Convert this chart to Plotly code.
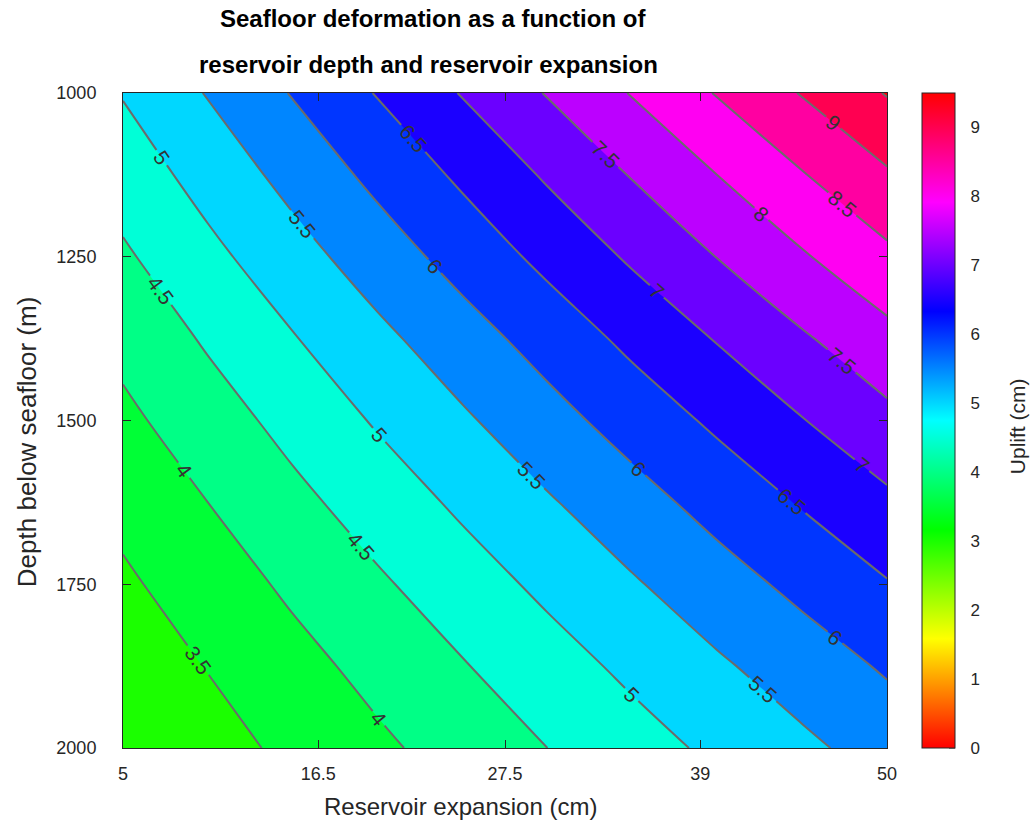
import plotly.graph_objects as go
import colorsys

# ---- data ----
expansion_cm = [5, 10, 15, 20, 25, 30, 35, 40, 45, 50]
depth_m = [1000, 1125, 1250, 1375, 1500, 1625, 1750, 1875, 2000]
uplift_cm = [
    [5.03, 5.53, 6.03, 6.53, 7.03, 7.53, 8.03, 8.53, 9.03, 9.53],
    [4.72, 5.19, 5.66, 6.13, 6.59, 7.06, 7.53, 8.00, 8.47, 8.94],
    [4.43, 4.87, 5.31, 5.75, 6.19, 6.63, 7.07, 7.51, 7.95, 8.39],
    [4.14, 4.56, 4.97, 5.38, 5.79, 6.20, 6.62, 7.03, 7.44, 7.85],
    [3.89, 4.27, 4.66, 5.05, 5.43, 5.82, 6.21, 6.59, 6.98, 7.37],
    [3.64, 4.00, 4.37, 4.73, 5.09, 5.45, 5.81, 6.18, 6.54, 6.90],
    [3.42, 3.75, 4.09, 4.43, 4.77, 5.11, 5.45, 5.79, 6.13, 6.47],
    [3.20, 3.52, 3.84, 4.15, 4.47, 4.79, 5.11, 5.43, 5.74, 6.06],
    [3.01, 3.31, 3.61, 3.91, 4.20, 4.50, 4.80, 5.10, 5.40, 5.70],
]
x_tick_vals = [5, 16.5, 27.5, 39, 50]
x_tick_text = ["5", "16.5", "27.5", "39", "50"]
y_tick_vals = [1000, 1250, 1500, 1750, 2000]
cbar_tick_vals = [0, 1, 2, 3, 4, 5, 6, 7, 8, 9]

Z_MIN, Z_MAX, STEP = 0.0, 9.5, 0.5
# contour levels start well below the data so plotly spaces labels more densely
CT_START = Z_MIN - 15.0
FONT = "Liberation Sans, Arial, sans-serif"
AX = "#262626"

# screen geometry of the plot area
PL, PT, PR, PB = 123.0, 93.1, 887.0, 747.6
PW, PH = PR - PL, PB - PT
FIG_W, FIG_H = 1031, 823
CB_L, CB_R = 922.0, 955.0


def hsv_color(frac):
    frac = min(max(frac, 0.0), 1.0)
    r, g, b = colorsys.hsv_to_rgb(frac if frac < 1 else 0.0, 1, 1)
    return "rgb(%d,%d,%d)" % (round(r * 255), round(g * 255), round(b * 255))


# continuous hsv scale for the colorbar
hsv_scale = [[i / 6, hsv_color(i / 6)] for i in range(7)]
hsv_scale[-1][1] = "rgb(255,0,0)"

# stepped scale for the filled bands: band [L, L+step] gets colour hsv(L / Z_MAX)
nlev = int(round((Z_MAX - CT_START) / STEP)) + 1


def v_to_p(v):
    return (v - (CT_START - STEP / 2)) / (nlev * STEP)


band_scale = []
for k in range(nlev):
    lo = CT_START + k * STEP
    col = hsv_color((lo - Z_MIN) / (Z_MAX - Z_MIN)) if lo < Z_MAX else "rgb(255,0,0)"
    p0 = max(0.0, v_to_p(lo)) if k > 0 else 0.0
    p1 = min(1.0, v_to_p(lo + STEP)) if k < nlev - 1 else 1.0
    band_scale.append([p0, col])
    band_scale.append([p1, col])

fig = go.Figure()
fig.add_trace(go.Contour(
    x=expansion_cm, y=depth_m, z=uplift_cm,
    autocontour=False,
    contours=dict(start=CT_START, end=Z_MAX, size=STEP, coloring="fill",
                  showlabels=True,
                  labelfont=dict(family=FONT, size=21, color="#333333")),
    colorscale=band_scale,
    showscale=False,
    line=dict(color="#6b6b6b", width=2),
    hoverinfo="skip",
))

# colorbar carrier (ticks drawn as shapes inside the bar, labels pushed out)
fig.add_trace(go.Scatter(
    x=[5, 5], y=[1000, 1000], mode="markers",
    marker=dict(size=1, opacity=0, color=[Z_MIN, Z_MAX], cmin=Z_MIN, cmax=Z_MAX,
                colorscale=hsv_scale, showscale=True,
                colorbar=dict(
                    x=(CB_L - PL) / PW, xanchor="left", xpad=0,
                    y=0.5, yanchor="middle", len=1, lenmode="fraction", ypad=0,
                    thickness=CB_R - CB_L, outlinewidth=1, outlinecolor=AX,
                    ticks="outside", ticklen=12, tickcolor="rgba(0,0,0,0)",
                    tickvals=cbar_tick_vals,
                    tickfont=dict(family=FONT, size=17, color=AX),
                )),
    hoverinfo="skip", showlegend=False,
))

axis_common = dict(showgrid=False, zeroline=False, showline=True, linecolor=AX,
                   linewidth=1, mirror="ticks", ticks="inside", ticklen=8,
                   tickcolor=AX, tickfont=dict(family=FONT, size=18, color=AX))
fig.update_xaxes(range=[5, 50], tickvals=x_tick_vals, ticktext=x_tick_text,
                 ticklabelstandoff=9, **axis_common)
fig.update_yaxes(range=[2000, 1000], tickvals=y_tick_vals,
                 ticklabelstandoff=22, **axis_common)


def py(px):
    return (PB - px) / PH


def pxx(px):
    return (px - PL) / PW


shapes = []
for v in cbar_tick_vals:
    yy = (v - Z_MIN) / (Z_MAX - Z_MIN)
    shapes.append(dict(type="line", xref="paper", yref="paper",
                       x0=pxx(CB_R - 6), x1=pxx(CB_R), y0=yy, y1=yy,
                       line=dict(color=AX, width=1)))

annotations = [
    dict(text="<b>Seafloor deformation as a function of</b>", x=pxx(433), y=py(19),
         font=dict(family=FONT, size=24, color="black")),
    dict(text="<b>reservoir depth and reservoir expansion</b>", x=pxx(428), y=py(65),
         font=dict(family=FONT, size=24, color="black")),
    dict(text="Reservoir expansion (cm)", x=pxx(460), y=py(806),
         font=dict(family=FONT, size=24, color=AX)),
    dict(text="Depth below seafloor (m)", x=pxx(27), y=py(442), textangle=-90,
         font=dict(family=FONT, size=26, color=AX)),
    dict(text="Uplift (cm)", x=pxx(1017), y=py(426), textangle=-90,
         font=dict(family=FONT, size=21, color=AX)),
]
for a in annotations:
    a.update(xref="paper", yref="paper", showarrow=False,
             xanchor="center", yanchor="middle")

fig.update_layout(
    width=FIG_W, height=FIG_H, autosize=False,
    margin=dict(l=PL, r=FIG_W - PR, t=PT, b=FIG_H - PB),
    paper_bgcolor="white", plot_bgcolor="white",
    showlegend=False,
    annotations=annotations,
    shapes=shapes,
)

fig.write_html("out.html", config={"displayModeBar": False},
               post_script="document.body.style.margin='0';"
                           "document.body.style.overflow='hidden';")
